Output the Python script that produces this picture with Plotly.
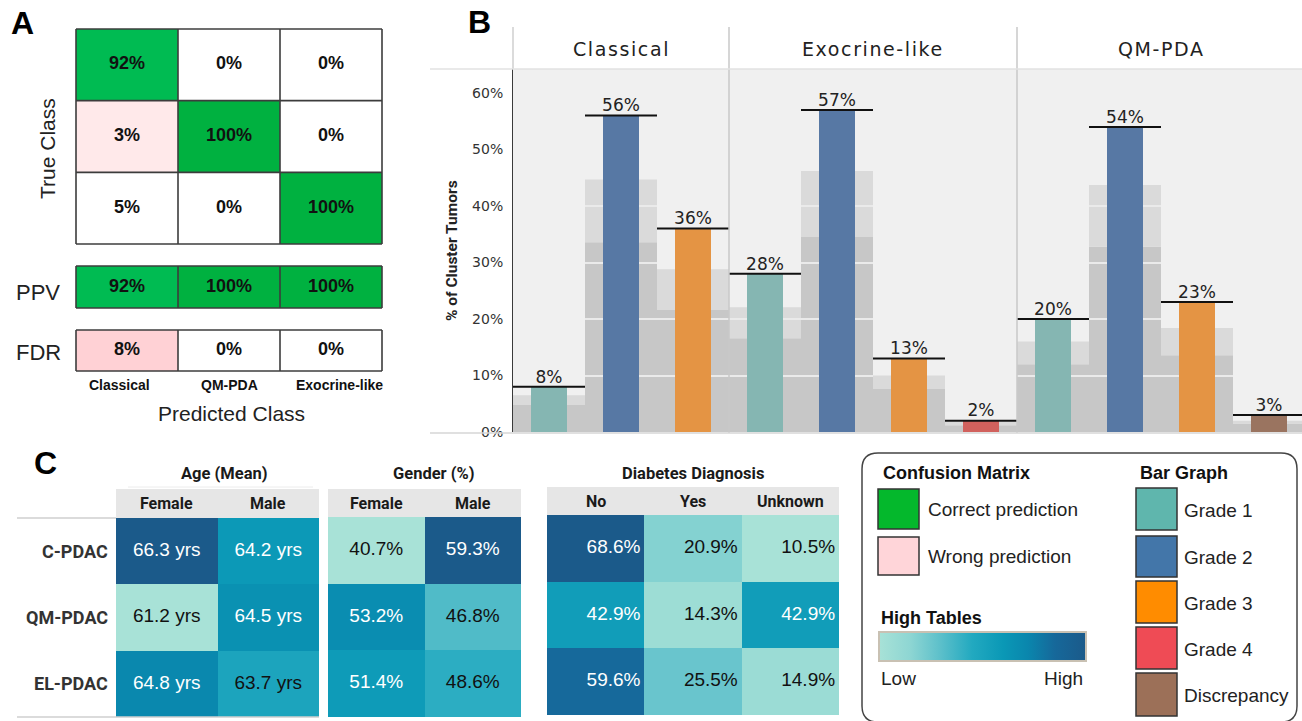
import plotly.graph_objects as go

W, H = 1302, 721


def fx(p):
    return p / W


def fy(p):
    return 1 - p / H


# ---------------- data ----------------
cm_classes = ["Classical", "QM-PDA", "Exocrine-like"]
cm_values = [[92, 0, 0], [3, 100, 0], [5, 0, 100]]
cm_flags = [[1, 0, 0], [-1, 1, 0], [0, 0, 1]]  # 1 correct, -1 wrong, 0 neutral
ppv_values = [92, 100, 100]
ppv_flags = [1, 1, 1]
fdr_values = [8, 0, 0]
fdr_flags = [-1, 0, 0]

facets = ["Classical", "Exocrine-like", "QM-PDA"]
facet_grades = [["Grade 1", "Grade 2", "Grade 3"],
                ["Grade 1", "Grade 2", "Grade 3", "Grade 4"],
                ["Grade 1", "Grade 2", "Grade 3", "Discrepancy"]]
facet_values = [[8, 56, 36], [28, 57, 13, 2], [20, 54, 23, 3]]
band_low = [[4.8, 33.6, 21.6], [16.6, 34.5, 7.6, 1.2], [12.0, 32.8, 13.6, 1.5]]
band_high = [[6.5, 44.7, 28.8], [22.1, 46.2, 10.0, 1.8], [16.0, 43.7, 18.4, 2.0]]
y_ticks = [0, 10, 20, 30, 40, 50, 60]

row_labels = ["C-PDAC", "QM-PDAC", "EL-PDAC"]
age_cols = ["Female", "Male"]
age_values = [[66.3, 64.2], [61.2, 64.5], [64.8, 63.7]]
gender_cols = ["Female", "Male"]
gender_values = [[40.7, 59.3], [53.2, 46.8], [51.4, 48.6]]
diab_cols = ["No", "Yes", "Unknown"]
diab_values = [[68.6, 20.9, 10.5], [42.9, 14.3, 42.9], [59.6, 25.5, 14.9]]

legend_cm_labels = ["Correct prediction", "Wrong prediction"]
legend_bar_labels = ["Grade 1", "Grade 2", "Grade 3", "Grade 4", "Discrepancy"]

# ---------------- styles ----------------
LIB = "Liberation Sans, Arial, sans-serif"
ROB = "Roboto, sans-serif"
DJV = "DejaVu Sans, sans-serif"

bar_colors = {"Grade 1": "#85b6b2", "Grade 2": "#5778a4", "Grade 3": "#e49444",
              "Grade 4": "#d1615d", "Discrepancy": "#9a7460"}
legend_cm_colors = ["#04b82c", "#ffd5d9"]
legend_bar_colors = ["#5fb6ad", "#4376a9", "#ff8c00", "#ef4b55", "#9c7058"]

cm_scale = [[0, "#ffc8cc"], [7 / 110, "#ffe9ea"], [10 / 110, "#ffffff"],
            [10.01 / 110, "#00c45c"], [102 / 110, "#00bb52"], [1, "#00b140"]]
tbl_scale = [[0.0, "#a8e2d7"], [0.15, "#8ed6d3"], [0.3, "#5bbfca"], [0.45, "#22a9c0"],
             [0.6, "#0a98b6"], [0.72, "#0a86ad"], [0.85, "#16689a"], [1.0, "#1b5a8a"]]

fig = go.Figure()
layout_axes = {}
shapes = []
annotations = []


def make_axes(n, xpx, ypx, xr, yr):
    xs, ys = ("x", "y") if n == 1 else (f"x{n}", f"y{n}")
    kx, ky = ("xaxis", "yaxis") if n == 1 else (f"xaxis{n}", f"yaxis{n}")
    layout_axes[kx] = dict(domain=[fx(xpx[0]), fx(xpx[1])], range=xr, anchor=ys,
                           visible=False, fixedrange=True)
    layout_axes[ky] = dict(domain=[fy(ypx[1]), fy(ypx[0])], range=yr, anchor=xs,
                           visible=False, fixedrange=True)
    return xs, ys


def ann(text, x, y, size, family=LIB, color="#111", xanchor="center", yanchor="middle",
        angle=0, xref="paper", yref="paper", xshift=0):
    annotations.append(dict(
        text=text, x=fx(x) if xref == "paper" else x, y=fy(y) if yref == "paper" else y,
        xref=xref, yref=yref, showarrow=False, xanchor=xanchor, yanchor=yanchor,
        textangle=angle, xshift=xshift, font=dict(family=family, size=size, color=color)))


def pline(x0, y0, x1, y1, color, width):
    shapes.append(dict(type="line", xref="paper", yref="paper", x0=fx(x0), y0=fy(y0),
                       x1=fx(x1), y1=fy(y1), line=dict(color=color, width=width), layer="above"))


def prect(x0, y0, x1, y1, fill, line_color=None, lw=0, layer="below"):
    shapes.append(dict(type="rect", xref="paper", yref="paper", x0=fx(x0), y0=fy(y1),
                       x1=fx(x1), y1=fy(y0), fillcolor=fill,
                       line=dict(color=line_color or fill, width=lw), layer=layer))


# ---------------- Panel A ----------------
def cm_block(n, values, flags, xpx, ypx):
    nr, nc = len(values), len(values[0])
    xs, ys = make_axes(n, xpx, ypx, [-0.5, nc - 0.5], [nr - 0.5, -0.5])
    z = [[f * v for v, f in zip(rv, rf)] for rv, rf in zip(values, flags)]
    fig.add_trace(go.Heatmap(z=z, x=list(range(nc)), y=list(range(nr)), xaxis=xs, yaxis=ys,
                             colorscale=cm_scale, zmin=-10, zmax=100, showscale=False,
                             hoverinfo="skip"))
    tx, ty, tt = [], [], []
    for i, row in enumerate(values):
        for j, v in enumerate(row):
            tx.append(j)
            ty.append(i)
            tt.append(f"<b>{v}%</b>")
    fig.add_trace(go.Scatter(x=tx, y=ty, text=tt, mode="text", xaxis=xs, yaxis=ys,
                             textfont=dict(family=LIB, size=18, color="#111"),
                             hoverinfo="skip", showlegend=False))
    cw = (xpx[1] - xpx[0]) / nc
    rh = (ypx[1] - ypx[0]) / nr
    for j in range(nc + 1):
        pline(xpx[0] + j * cw, ypx[0], xpx[0] + j * cw, ypx[1], "#3c3c3c", 1.6)
    for i in range(nr + 1):
        pline(xpx[0], ypx[0] + i * rh, xpx[1], ypx[0] + i * rh, "#3c3c3c", 1.6)
    return xs


xa = cm_block(1, cm_values, cm_flags, (76, 382), (29, 244))
cm_block(2, [ppv_values], [ppv_flags], (76, 382), (266, 308))
cm_block(3, [fdr_values], [fdr_flags], (76, 382), (330, 371))
for j, c in enumerate(cm_classes):
    ann(f"<b>{c}</b>", j, 385, 14, xref=xa, xshift=(j - 1) * 8)
ann("Predicted Class", 231, 413, 21, color="#222")
ann("True Class", 47, 149, 21, color="#222", angle=-90)
ann("PPV", 38, 292, 22, color="#222")
ann("FDR", 38, 352, 22, color="#222")
ann("<b>A</b>", 22, 23, 32, color="#000")

# ---------------- Panel B ----------------
SLOT = 72.0
YPX = 5.65
slot_x, slot_val, slot_low, slot_high, slot_col = [], [], [], [], []
facet_center, facet_end = [], []
k = 0
for grades, vals, lo, hi in zip(facet_grades, facet_values, band_low, band_high):
    start = k
    for g, v, l, h in zip(grades, vals, lo, hi):
        slot_x.append(k + 0.5)
        slot_val.append(v)
        slot_low.append(l)
        slot_high.append(h)
        slot_col.append(bar_colors[g])
        k += 1
    facet_center.append((start + k) / 2)
    facet_end.append(k)

layout_axes["xaxis4"] = dict(domain=[fx(513), 1], range=[0, (1302 - 513) / SLOT], anchor="y4",
                             visible=False, fixedrange=True)
layout_axes["yaxis4"] = dict(domain=[fy(432), fy(69)], range=[0, (432 - 69) / YPX], anchor="x4",
                             showline=True, linecolor="#3a3a3a", linewidth=1, ticks="outside",
                             ticklen=6, tickcolor="rgba(0,0,0,0)", tickvals=y_ticks,
                             ticktext=[f"{t}%" for t in y_ticks],
                             tickfont=dict(family=DJV, size=14, color="#333"),
                             showgrid=False, zeroline=False, fixedrange=True)

prect(513, 69, 1302, 432, "#f0f0f0")

fig.add_trace(go.Bar(x=slot_x, y=slot_low, width=1, xaxis="x4", yaxis="y4",
                     marker=dict(color="#c7c7c7", line=dict(width=0)), hoverinfo="skip",
                     showlegend=False))
fig.add_trace(go.Bar(x=slot_x, y=[h - l for l, h in zip(slot_low, slot_high)], base=slot_low,
                     width=1, xaxis="x4", yaxis="y4",
                     marker=dict(color="#dadada", line=dict(width=0)), hoverinfo="skip",
                     showlegend=False))
gx, gb = [], []
for x, h in zip(slot_x, slot_high):
    for t in y_ticks[1:]:
        if t < h:
            gx.append(x)
            gb.append(t - 0.09)
fig.add_trace(go.Bar(x=gx, y=[0.18] * len(gx), base=gb, width=1, xaxis="x4", yaxis="y4",
                     marker=dict(color="#eaeaea", line=dict(width=0)), hoverinfo="skip",
                     showlegend=False))
fig.add_trace(go.Bar(x=slot_x, y=slot_val, width=0.5, xaxis="x4", yaxis="y4",
                     marker=dict(color=slot_col, line=dict(width=0)), hoverinfo="skip",
                     showlegend=False))
lx, ly = [], []
for x, v in zip(slot_x, slot_val):
    lx += [x - 0.5, x + 0.5, None]
    ly += [v, v, None]
fig.add_trace(go.Scatter(x=lx, y=ly, mode="lines", xaxis="x4", yaxis="y4",
                         line=dict(color="#111", width=2), hoverinfo="skip", showlegend=False))
fig.add_trace(go.Scatter(x=slot_x, y=slot_val, text=[f"{v}%" for v in slot_val],
                         mode="text", textposition="top center", xaxis="x4", yaxis="y4",
                         textfont=dict(family=DJV, size=17, color="#222"),
                         hoverinfo="skip", showlegend=False))

for name, c in zip(facets, facet_center):
    annotations.append(dict(text=f'<span style="letter-spacing:1.6px">{name}</span>',
                            x=c, y=fy(49), xref="x4", yref="paper", showarrow=False,
                            xanchor="center", yanchor="middle",
                            font=dict(family=DJV, size=19, color="#222")))
for e in facet_end[:-1]:
    shapes.append(dict(type="line", xref="x4", yref="paper", x0=e, x1=e, y0=fy(433),
                       y1=fy(27), line=dict(color="#c8c8c8", width=1.5), layer="above"))
pline(513, 27, 513, 69, "#cfcfcf", 1.5)
pline(430, 69, 1302, 69, "#e2e2e2", 1.5)
pline(430, 433, 1302, 433, "#d6d6d6", 1.5)
ann("<b>% of Cluster Tumors</b>", 452, 250, 15.5, family=ROB, color="#222", angle=-90)
ann("<b>B</b>", 479, 22, 32, color="#000")

# ---------------- Panel C ----------------
def table(n, values, cols, fmt, xpx, ypx, hdr, title, title_x, right=False, scale=False):
    nr, nc = len(values), len(values[0])
    xs, ys = make_axes(n, xpx, ypx, [-0.5, nc - 0.5], [nr - 0.5, -0.5])
    flat = [v for r in values for v in r]
    lo, hi = min(flat), max(flat)
    hm = dict(z=values, x=list(range(nc)), y=list(range(nr)), xaxis=xs, yaxis=ys,
              colorscale=tbl_scale, zmin=lo, zmax=hi, hoverinfo="skip", showscale=scale)
    if scale:
        hm["colorbar"] = dict(orientation="h", x=fx(879), xanchor="left", y=fy(663),
                              yanchor="bottom", len=(1086 - 879) / W, lenmode="fraction",
                              thickness=29, thicknessmode="pixels", outlinecolor="#c9c1b3",
                              outlinewidth=2, showticklabels=False, ticks="", xpad=0, ypad=0)
    fig.add_trace(go.Heatmap(**hm))
    tx, ty, tt, tc = [], [], [], []
    for i, row in enumerate(values):
        for j, v in enumerate(row):
            tx.append(j + 0.46 if right else j)
            ty.append(i)
            tt.append(fmt.format(v))
            tc.append("#ffffff" if (v - lo) / (hi - lo) > 0.5 else "#111111")
    fig.add_trace(go.Scatter(x=tx, y=ty, text=tt, mode="text",
                             textposition="middle left" if right else "middle center",
                             xaxis=xs, yaxis=ys,
                             textfont=dict(family=LIB, size=19, color=tc),
                             hoverinfo="skip", showlegend=False))
    prect(xpx[0], hdr[0], xpx[1], hdr[1], "#e6e6e6")
    for j, c in enumerate(cols):
        ann(f"<b>{c}</b>", j, (hdr[0] + hdr[1]) / 2, 16, family=ROB, color="#1a1a1a", xref=xs)
    ann(f"<b>{title}</b>", title_x, 473, 16.5, family=ROB, color="#1a1a1a")
    return ys


ya = table(5, age_values, age_cols, "{} yrs", (116, 319), (518, 717), (489, 518),
           "Age (Mean)", 224, scale=False)
table(6, gender_values, gender_cols, "{}%", (328, 521), (517, 717), (489, 517),
      "Gender (%)", 434)
table(7, diab_values, diab_cols, "{}%", (547, 839), (515, 715), (487, 515),
      "Diabetes Diagnosis", 693, right=True, scale=True)
for i, r in enumerate(row_labels):
    ann(f"<b>{r}</b>", 110, i, 18, family=ROB, color="#333", xanchor="right",
        xref="paper", yref=ya)
pline(17, 518, 116, 518, "#cfcfcf", 1.5)
pline(17, 717, 319, 717, "#cfcfcf", 1.5)
pline(128, 487, 313, 487, "#ececec", 1)
ann("<b>C</b>", 45, 463, 32, color="#000")

# ---------------- Legend ----------------
x0, x1, y0, y1, r = 862, 1297, 453, 722, 16
path = (f"M {fx(x0 + r)},{fy(y0)} L {fx(x1 - r)},{fy(y0)} Q {fx(x1)},{fy(y0)} {fx(x1)},{fy(y0 + r)} "
        f"L {fx(x1)},{fy(y1 - r)} Q {fx(x1)},{fy(y1)} {fx(x1 - r)},{fy(y1)} "
        f"L {fx(x0 + r)},{fy(y1)} Q {fx(x0)},{fy(y1)} {fx(x0)},{fy(y1 - r)} "
        f"L {fx(x0)},{fy(y0 + r)} Q {fx(x0)},{fy(y0)} {fx(x0 + r)},{fy(y0)} Z")
shapes.append(dict(type="path", path=path, xref="paper", yref="paper",
                   line=dict(color="#444", width=1.5), layer="above"))

ann("<b>Confusion Matrix</b>", 881, 473, 18, color="#111", xanchor="left")
cm_sw = [(489, 529), (537, 575)]
for (a, b), lab, col in zip(cm_sw, legend_cm_labels, legend_cm_colors):
    prect(878, a, 919, b, col, "#333", 1.5, layer="above")
    ann(lab, 926, (a + b) / 2, 19, color="#222", xanchor="left")
ann("<b>High Tables</b>", 879, 618, 18, color="#111", xanchor="left")
ann("Low", 879, 678, 19, color="#222", xanchor="left")
ann("High", 1085, 678, 19, color="#222", xanchor="right")

ann("<b>Bar Graph</b>", 1138, 473, 18, color="#111", xanchor="left")
bar_sw = [(488, 530), (536, 577), (581, 623), (627, 669), (673, 716)]
for (a, b), lab, col in zip(bar_sw, legend_bar_labels, legend_bar_colors):
    prect(1136, a, 1177, b, col, "#333", 1.5, layer="above")
    ann(lab, 1182, (a + b) / 2 + 1, 19, color="#222", xanchor="left")

fig.update_layout(
    width=W, height=H, autosize=False,
    margin=dict(l=0, r=0, t=0, b=0, pad=0, autoexpand=False),
    paper_bgcolor="white", plot_bgcolor="white",
    barmode="overlay", showlegend=False, hovermode=False,
    shapes=shapes, annotations=annotations, **layout_axes)

fig.write_html("out.html", config={"displayModeBar": False, "responsive": False},
               post_script="document.body.style.margin='0';document.body.style.overflow='hidden';")
